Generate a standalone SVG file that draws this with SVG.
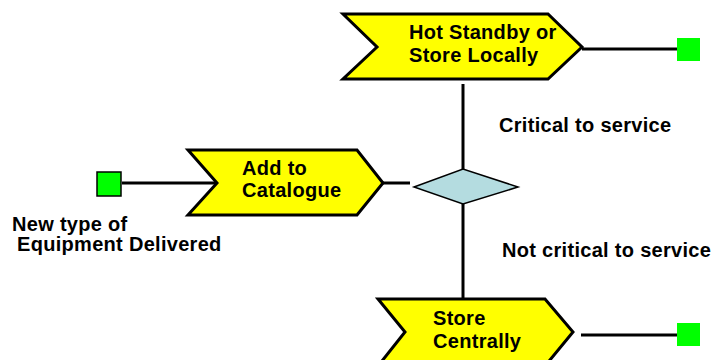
<svg xmlns="http://www.w3.org/2000/svg" width="713" height="360" viewBox="0 0 713 360">
<style>
.chev{fill:#ffff00;stroke:#000;stroke-width:3;stroke-linejoin:miter}
.term{fill:#00ff00;stroke:none}
.dec{fill:#b4dce0;stroke:#000;stroke-width:1.5}
.t{font-family:"Liberation Sans",Arial,Helvetica,sans-serif;font-weight:bold;font-size:20px;letter-spacing:0.3px;fill:#000}
.line{stroke:#000;stroke-width:3;fill:none}
</style>
<rect width="713" height="360" fill="#fff"/>
<g id="connectors">
<line class="line" x1="122" y1="183" x2="217" y2="183"/>
<line class="line" x1="383" y1="183" x2="410" y2="183"/>
<line class="line" x1="463" y1="84" x2="463" y2="169"/>
<line class="line" x1="463" y1="204" x2="463" y2="298"/>
<line class="line" x1="582" y1="49" x2="678" y2="49"/>
<line class="line" x1="581" y1="335" x2="678" y2="335"/>
</g>
<g id="start">
<rect x="97" y="172" width="24" height="24" fill="#00ff00" stroke="#000" stroke-width="1.5"/>
<text class="t" x="12" y="231">New type of</text>
<text class="t" x="17" y="251">Equipment Delivered</text>
</g>
<g id="add">
<polygon class="chev" points="188,150 357,150 383,183 357,215 188,215 217,183"/>
<text class="t" x="242" y="175">Add to</text>
<text class="t" x="242" y="197">Catalogue</text>
</g>
<g id="decision">
<polygon class="dec" points="414,187 463,169 518,187 463,204"/>
</g>
<g id="hot">
<polygon class="chev" points="343,14 548,14 582,47 548,79 343,79 377,47"/>
<text class="t" x="409" y="39">Hot Standby or</text>
<text class="t" x="409" y="62">Store Locally</text>
</g>
<g id="central">
<polygon class="chev" points="378,299 545,299 573,332 545,366 378,366 405,332"/>
<text class="t" x="433" y="325">Store</text>
<text class="t" x="433" y="348">Centrally</text>
</g>
<g id="end1"><rect class="term" x="677" y="38" width="23" height="23"/></g>
<g id="end2"><rect class="term" x="677" y="323" width="23" height="23"/></g>
<g id="labels">
<text class="t" x="499" y="132">Critical to service</text>
<text class="t" x="502" y="257">Not critical to service</text>
</g>
</svg>
